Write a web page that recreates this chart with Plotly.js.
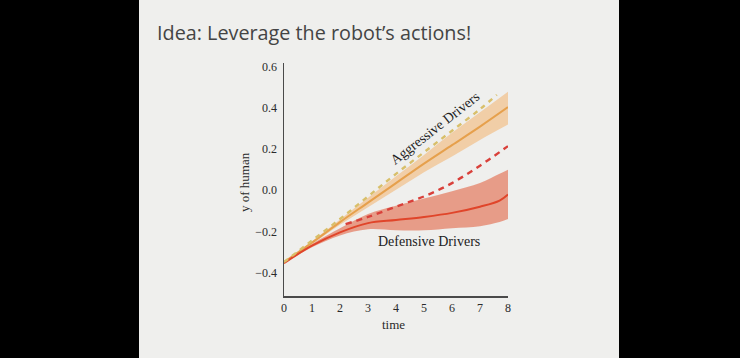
<!DOCTYPE html>
<html>
<head>
<meta charset="utf-8">
<script src="https://cdn.plot.ly/plotly-3.0.1.min.js"></script>
<style>
html,body{margin:0;padding:0;background:#000;}
#chart{width:740px;height:358px;}
</style>
</head>
<body>
<div id="chart"></div>
<script>
// ---- data ----
const aggrTime  = [0, 1, 2, 3, 4, 5, 6, 7, 8];
const aggrMean  = [-0.35, -0.255, -0.155, -0.06, 0.035, 0.13, 0.22, 0.31, 0.405];
const aggrUpper = [-0.35, -0.248, -0.142, -0.037, 0.068, 0.172, 0.28, 0.38, 0.48];
const aggrLower = [-0.35, -0.262, -0.168, -0.083, 0.002, 0.088, 0.165, 0.245, 0.32];
const aggrPredTime = [0, 1, 2, 3, 4, 5, 6, 7, 7.6];
const aggrPred     = [-0.35, -0.245, -0.14, -0.03, 0.08, 0.185, 0.29, 0.395, 0.465];

const defTime  = [0, 1, 2, 3, 4, 5, 6, 7, 7.7, 8];
const defMean  = [-0.355, -0.27, -0.205, -0.16, -0.145, -0.13, -0.11, -0.08, -0.05, -0.02];
const defUpper = [-0.355, -0.262, -0.185, -0.115, -0.075, -0.04, -0.005, 0.035, 0.08, 0.10];
const defLower = [-0.355, -0.278, -0.22, -0.19, -0.195, -0.195, -0.185, -0.175, -0.155, -0.14];
const defPredTime = [2.2, 3, 4, 5, 6, 7, 8];
const defPred     = [-0.165, -0.13, -0.08, -0.03, 0.035, 0.12, 0.215];

const xTickVals = [0, 1, 2, 3, 4, 5, 6, 7, 8];
const xTickText = ["0", "1", "2", "3", "4", "5", "6", "7", "8"];
const yTickVals = [-0.4, -0.2, 0, 0.2, 0.4, 0.6];
const yTickText = ["\u22120.4", "\u22120.2", "0.0", "0.2", "0.4", "0.6"];

const serif = "Liberation Serif, DejaVu Serif, serif";

const traces = [
  // defensive band
  {x: defTime, y: defLower, mode: 'lines', line: {width: 0, shape: 'spline'}, hoverinfo: 'skip', showlegend: false},
  {x: defTime, y: defUpper, mode: 'lines', fill: 'tonexty', fillcolor: 'rgba(226,105,75,0.62)',
   line: {width: 0, shape: 'spline'}, hoverinfo: 'skip', showlegend: false},
  // aggressive band
  {x: aggrTime, y: aggrLower, mode: 'lines', line: {width: 0, shape: 'spline'}, hoverinfo: 'skip', showlegend: false},
  {x: aggrTime, y: aggrUpper, mode: 'lines', fill: 'tonexty', fillcolor: 'rgba(242,178,110,0.55)',
   line: {width: 0, shape: 'spline'}, hoverinfo: 'skip', showlegend: false},
  // means
  {x: aggrTime, y: aggrMean, mode: 'lines', line: {color: '#e6a04c', width: 2, shape: 'spline'}, showlegend: false},
  {x: defTime, y: defMean, mode: 'lines', line: {color: '#e0452a', width: 2, shape: 'spline'}, showlegend: false},
  // predicted (dashed)
  {x: aggrPredTime, y: aggrPred, mode: 'lines', line: {color: '#d8bf6a', width: 2.4, dash: '5px,5px', shape: 'spline'}, showlegend: false},
  {x: defPredTime, y: defPred, mode: 'lines', line: {color: '#d9403a', width: 2.4, dash: '6px,5px', shape: 'spline'}, showlegend: false}
];

const layout = {
  width: 740, height: 358,
  margin: {l: 284, r: 232, t: 63, b: 62},
  paper_bgcolor: '#000000',
  plot_bgcolor: 'rgba(0,0,0,0)',
  showlegend: false,
  title: {
    text: "Idea: Leverage the robot\u2019s actions!",
    x: 157 / 740, xref: 'container', xanchor: 'left',
    y: 1 - 33 / 358, yref: 'container', yanchor: 'middle',
    font: {family: 'Open Sans, sans-serif', size: 19.8, color: '#444444'}
  },
  xaxis: {
    range: [0, 8], showgrid: false, zeroline: false,
    showline: true, linecolor: '#4a4a4a', linewidth: 1.5,
    ticks: '', tickvals: xTickVals, ticktext: xTickText,
    tickfont: {family: serif, size: 12, color: '#2a2a2a'}
  },
  yaxis: {
    range: [-0.515, 0.62], showgrid: false, zeroline: false,
    showline: true, linecolor: '#4a4a4a', linewidth: 1.5,
    ticks: '', tickvals: yTickVals, ticktext: yTickText,
    ticklabelstandoff: 3,
    tickfont: {family: serif, size: 12, color: '#2a2a2a'}
  },
  shapes: [
    {type: 'rect', xref: 'paper', yref: 'paper', layer: 'below',
     x0: (139 - 284) / 224, x1: (619 - 284) / 224,
     y0: (296 - 360) / 233, y1: (296 + 2) / 233,
     fillcolor: '#efefed', line: {width: 0}}
  ],
  annotations: [
    {text: 'time', xref: 'paper', yref: 'paper', x: (393 - 284) / 224, y: (296 - 324) / 233,
     showarrow: false, xanchor: 'center', yanchor: 'middle', font: {family: serif, size: 13, color: '#2a2a2a'}},
    {text: 'y of human', xref: 'paper', yref: 'paper', x: (244 - 284) / 224, y: (296 - 182) / 233,
     textangle: -90, showarrow: false, xanchor: 'center', yanchor: 'middle', font: {family: serif, size: 13, color: '#2a2a2a'}},
    {text: 'Aggressive Drivers', xref: 'x', yref: 'y', x: 5.39, y: 0.30, textangle: -38,
     showarrow: false, font: {family: serif, size: 14, color: '#222'}},
    {text: 'Defensive Drivers', xref: 'x', yref: 'y', x: 5.18, y: -0.25,
     showarrow: false, font: {family: serif, size: 14, color: '#222'}}
  ]
};

Plotly.newPlot('chart', traces, layout, {displayModeBar: false, staticPlot: true});
</script>
</body>
</html>
